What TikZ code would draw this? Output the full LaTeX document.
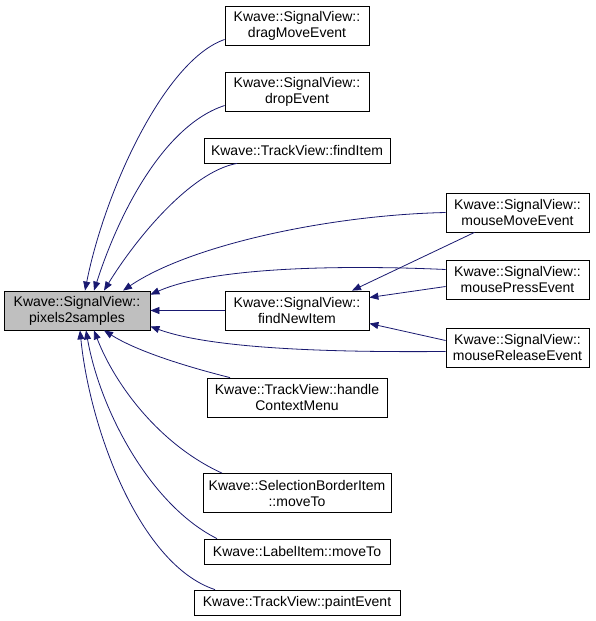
\documentclass[tikz,border=0pt]{standalone}
\usepackage{fontspec}
\setmainfont{Liberation Sans}
\usetikzlibrary{arrows.meta, positioning}
\definecolor{edgeblue}{HTML}{191970}
\tikzset{>={Triangle[length=9pt,width=7pt]}}
\tikzset{
  fn/.style={draw, fill=white, line width=0.8pt, align=center, inner sep=0pt,
    minimum height=39pt, font=\fontsize{14}{16}\selectfont},
  fnone/.style={fn, minimum height=25pt},
  call/.style={->, edgeblue, line width=0.8pt}
}

\begin{document}
\begin{tikzpicture}[x=1pt, y=-1pt]
\useasboundingbox (0,0) rectangle (595,621);

% the function whose callers are shown
\node[fn, fill=gray!50, minimum width=146pt] (main) at (77,310.5) {Kwave::SignalView::\\pixels2samples};

% callers
\node[fn, minimum width=144pt] (dragmove) at (297,25.5) {Kwave::SignalView::\\dragMoveEvent};
\node[fn, minimum width=144pt] (drop) at (297,91.5) {Kwave::SignalView::\\dropEvent};
\node[fnone, minimum width=186pt] (finditem) at (297,150.5) {Kwave::TrackView::findItem};
\node[fn, minimum width=144pt] (findnew) at (297,310.5) {Kwave::SignalView::\\findNewItem};
\node[fn, minimum width=180pt] (ctxmenu) at (297,397.5) {Kwave::TrackView::handle\\ContextMenu};
\node[fn, minimum width=188pt] (border) at (297,493) {Kwave::SelectionBorderItem\\::moveTo};
\node[fnone, minimum width=186pt] (label) at (297,551.5) {Kwave::LabelItem::moveTo};
\node[fnone, minimum width=206pt] (paint) at (297,602.5) {Kwave::TrackView::paintEvent};

\node[fn, minimum width=143pt] (mmove) at (517.5,212.5) {Kwave::SignalView::\\mouseMoveEvent};
\node[fn, minimum width=143pt] (mpress) at (517.5,279.5) {Kwave::SignalView::\\mousePressEvent};
\node[fn, minimum width=143pt] (mrelease) at (517.5,347.5) {Kwave::SignalView::\\mouseReleaseEvent};

% edges into pixels2samples
\draw[call] ([yshift=-14pt]dragmove.west) .. controls (165,60) and (105,190) .. ([xshift=8pt]main.north);
\draw[call] ([yshift=-14pt]drop.west) .. controls (165,125) and (120,210) .. ([xshift=17pt]main.north);
\draw[call] ([xshift=-60pt]finditem.south) .. controls (190,172) and (135,240) .. ([xshift=27pt]main.north);
\draw[call] (mmove.west) .. controls (330,215) and (190,245) .. ([xshift=46pt]main.north);
\draw[call] ([yshift=10pt]mpress.west) .. controls (370,266) and (220,264) .. ([yshift=-4pt]main.north east);
\draw[call] (findnew) -- (main);
\draw[call] ([yshift=-4pt]mrelease.west) .. controls (370,352) and (220,352) .. ([yshift=4pt]main.south east);
\draw[call] ([xshift=-67pt]ctxmenu.north) .. controls (180,365) and (135,350) .. ([xshift=27pt]main.south);
\draw[call] ([xshift=-75pt]border.north) .. controls (160,445) and (115,385) .. ([xshift=17pt]main.south);
\draw[call] ([xshift=-80pt]label.north) .. controls (150,505) and (100,410) .. ([xshift=9pt]main.south);
\draw[call] ([xshift=-82pt]paint.north) .. controls (140,565) and (90,430) .. ([xshift=3pt]main.south);

% edges into findNewItem
\draw[call] ([xshift=-43pt]mmove.south) -- ([xshift=55pt]findnew.north);
\draw[call] ([yshift=-7pt]mpress.west) -- ([yshift=13pt]findnew.east);
\draw[call] ([yshift=7pt]mrelease.west) -- ([yshift=-13pt]findnew.east);

\end{tikzpicture}
\end{document}
